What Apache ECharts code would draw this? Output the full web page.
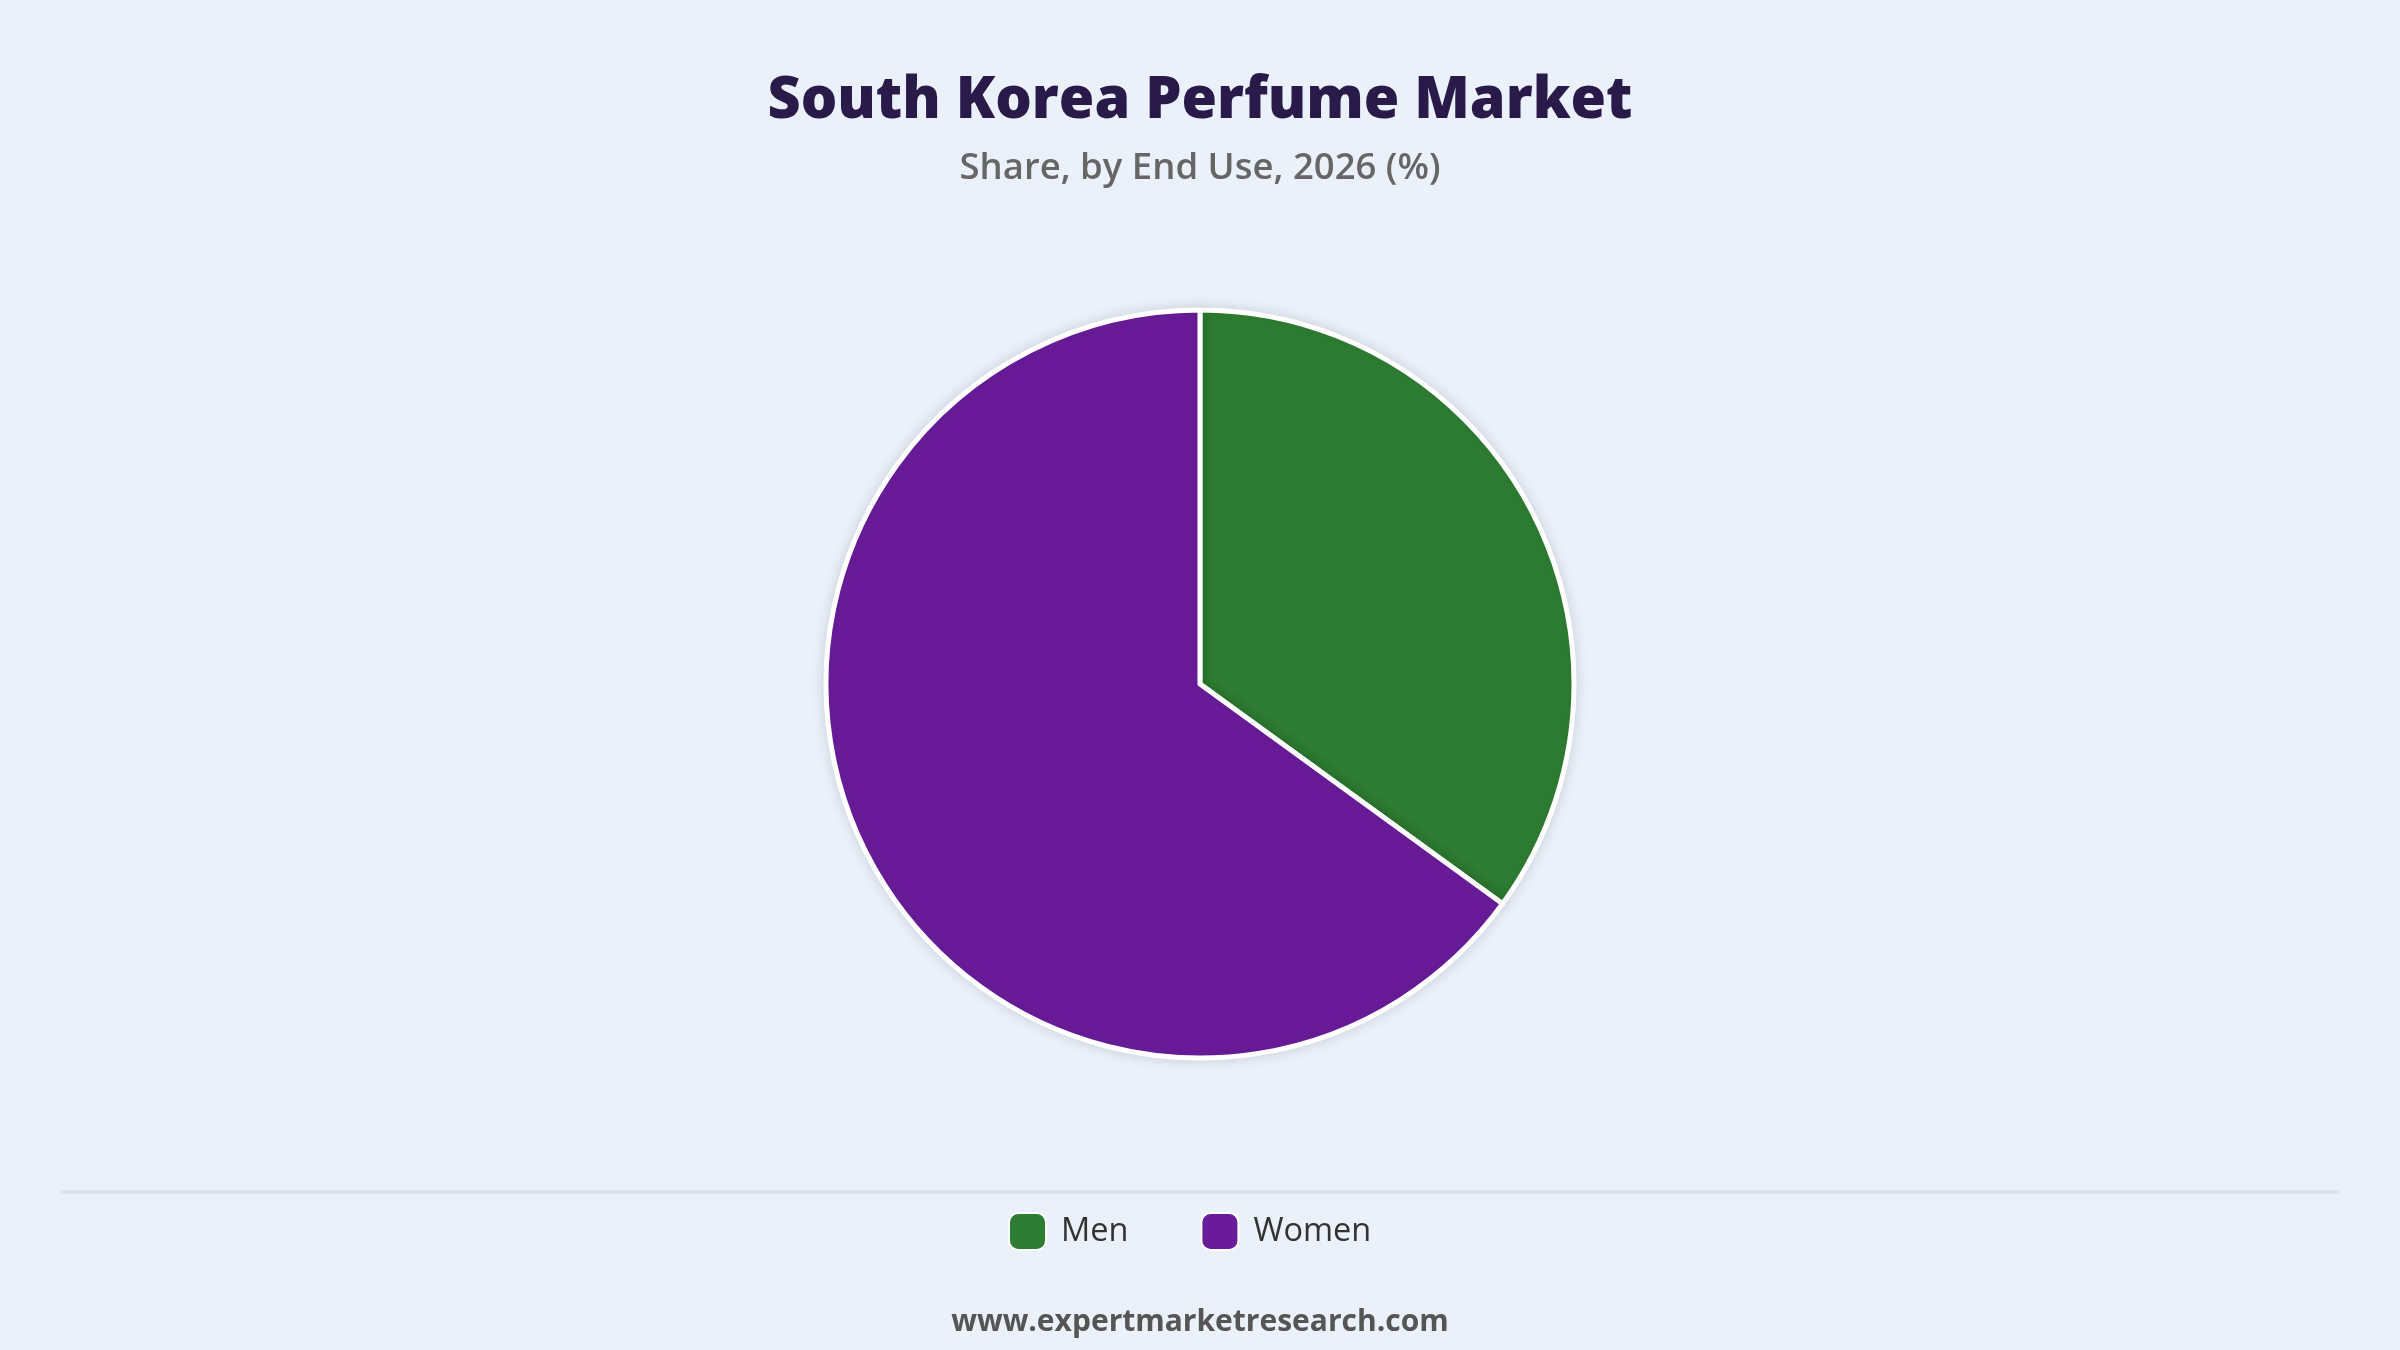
<!DOCTYPE html>
<html>
<head>
<meta charset="utf-8">
<script src="https://cdn.jsdelivr.net/npm/echarts@6/dist/echarts.min.js"></script>
<style>
html,body{margin:0;padding:0;background:#EAF1FB;}
#c{width:2400px;height:1350px;}
</style>
</head>
<body>
<div id="c"></div>
<script>
const categories = ["Men", "Women"];
const shares = [35, 65];
const colors = ["#2E7D32", "#6A1B9A"];

const chart = echarts.init(document.getElementById('c'));
chart.setOption({
  backgroundColor: '#EAF1FB',
  title: [{
    text: 'South Korea Perfume Market',
    left: 'center', top: 68,
    textStyle: {fontFamily: 'Open Sans', fontWeight: 800, fontSize: 57.5, color: '#2A1A4A'}
  }, {
    text: 'Share, by End Use, 2026 (%)',
    left: 'center', top: 145,
    textStyle: {fontFamily: 'Open Sans', fontWeight: 600, fontSize: 36.5, color: '#666666'}
  }, {
    text: 'www.expertmarketresearch.com',
    left: 'center', top: 1302,
    textStyle: {fontFamily: 'Open Sans', fontWeight: 700, fontSize: 30, color: '#555555'}
  }],
  legend: {
    data: categories,
    bottom: 94,
    left: 1003,
    itemWidth: 37, itemHeight: 37, itemGap: 72,
    icon: 'roundRect',
    textStyle: {fontFamily: 'Open Sans', fontSize: 32.5, color: '#333333', padding: [0,0,0,10]}
  },
  graphic: [{
    type: 'line',
    shape: {x1: 61, y1: 1192, x2: 2339, y2: 1192},
    style: {stroke: '#DCDFE4', lineWidth: 3}
  }],
  series: [{
    type: 'pie',
    center: [1200, 684],
    radius: ['0%', 374],
    startAngle: 90,
    clockwise: true,
    label: {show: false},
    labelLine: {show: false},
    silent: true,
    itemStyle: {
      borderColor: '#FFFFFF', borderWidth: 5,
      shadowColor: 'rgba(0,0,0,0.12)', shadowBlur: 14
    },
    data: categories.map((n, i) => ({name: n, value: shares[i], itemStyle: {color: colors[i]}}))
  }],
  color: colors
});
</script>
</body>
</html>
